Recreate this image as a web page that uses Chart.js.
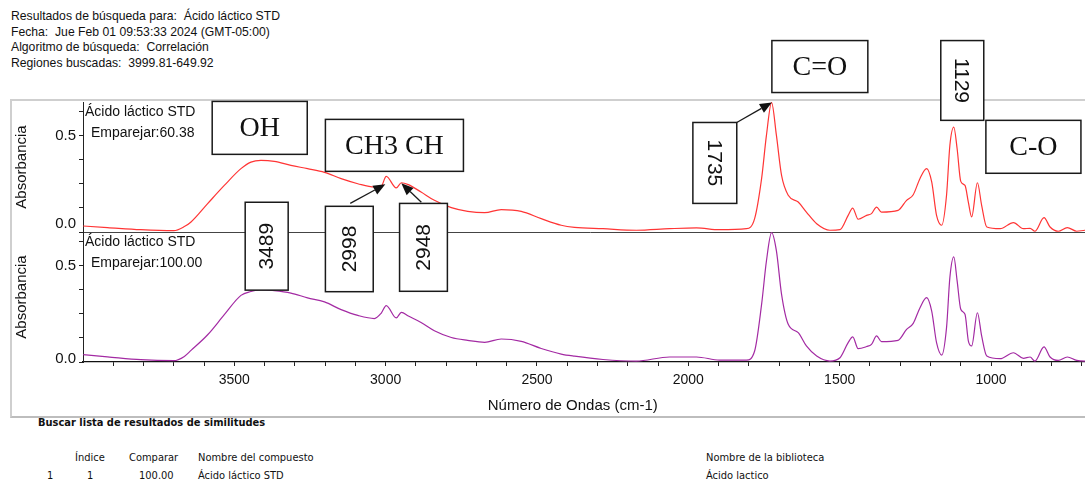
<!DOCTYPE html>
<html>
<head>
<meta charset="utf-8">
<script src="https://cdn.jsdelivr.net/npm/chart.js@4.4.1/dist/chart.umd.min.js"></script>
<style>
  html, body { margin: 0; padding: 0; background: #fff; overflow: hidden; }
  body { width: 1085px; height: 481px; position: relative; font-family: "Liberation Sans", Arial, sans-serif; color: #111; }
  .head { position: absolute; left: 11px; top: 9px; font-size: 12.2px; line-height: 15.7px; white-space: pre; }
  .panel { position: absolute; left: 10px; top: 99px; width: 1110px; height: 315px;
           border-top: 2px solid #cfcfcf; border-left: 2px solid #cfcfcf; border-bottom: 2px solid #bdbdbd; }
  #spec { position: absolute; left: 12px; top: 28px; }
  .foot { position: absolute; font-family: "Liberation Sans Narrow", "DejaVu Sans Condensed", sans-serif; font-size: 11px; white-space: pre; }
  .foot.b { font-weight: bold; }
</style>
</head>
<body>
<div class="head">Resultados de búsqueda para:  Ácido láctico STD
Fecha:  Jue Feb 01 09:53:33 2024 (GMT-05:00)
Algoritmo de búsqueda:  Correlación
Regiones buscadas:  3999.81-649.92</div>

<div class="panel"></div>
<canvas id="spec" width="1098" height="388"></canvas>

<div class="foot b" style="left:38px; top:416px;">Buscar lista de resultados de similitudes</div>
<div class="foot" style="left:75px; top:451px;">Índice</div>
<div class="foot" style="left:129px; top:451px;">Comparar</div>
<div class="foot" style="left:198px; top:451px;">Nombre del compuesto</div>
<div class="foot" style="left:706px; top:451px;">Nombre de la biblioteca</div>
<div class="foot" style="left:47px; top:469px;">1</div>
<div class="foot" style="left:87px; top:469px;">1</div>
<div class="foot" style="left:139px; top:469px;">100.00</div>
<div class="foot" style="left:198px; top:469px;">Ácido láctico STD</div>
<div class="foot" style="left:706px; top:469px;">Ácido lactico</div>

<script>
// wavenumbers (cm-1)
const wavenumbers = [3999, 3919, 3809, 3700, 3665, 3643, 3588, 3533, 3478, 3445, 3412, 3368, 3313, 3258,
  3202, 3147, 3092, 3037, 3015, 2998, 2965, 2948, 2925, 2883, 2839, 2783, 2729, 2673, 2618, 2552,
  2486, 2420, 2376, 2282, 2172, 2062, 1973, 1897, 1808, 1781, 1758, 1742, 1725, 1709, 1692, 1670,
  1637, 1610, 1576, 1532, 1499, 1472, 1457, 1439, 1411, 1395, 1378, 1362, 1307, 1279, 1257, 1235,
  1213, 1196, 1180, 1163, 1147, 1136, 1123, 1112, 1100, 1086, 1075, 1064, 1045, 1031, 1014, 970,
  926, 893, 871, 855, 825, 805, 778, 748, 717, 690, 650];

// sample spectrum (top, red) - Emparejar 60.38
const absSample = [0.031, 0.023, 0.012, 0.007, 0.028, 0.052, 0.147, 0.241, 0.328, 0.362, 0.371, 0.366, 0.345, 0.328,
  0.309, 0.276, 0.250, 0.233, 0.236, 0.288, 0.228, 0.255, 0.245, 0.207, 0.164, 0.126, 0.107, 0.100, 0.116, 0.107,
  0.069, 0.035, 0.024, 0.017, 0.009, 0.017, 0.021, 0.012, 0.017, 0.069, 0.276, 0.500, 0.670, 0.500, 0.293, 0.190,
  0.155, 0.103, 0.043, 0.009, 0.012, 0.086, 0.124, 0.066, 0.086, 0.095, 0.129, 0.103, 0.112, 0.164, 0.193, 0.276,
  0.328, 0.259, 0.086, 0.035, 0.190, 0.448, 0.543, 0.431, 0.262, 0.241, 0.155, 0.078, 0.255, 0.138, 0.026, 0.017,
  0.049, 0.017, 0.019, 0.004, 0.074, 0.026, 0.004, 0.023, 0.004, 0.009, 0.010];

// library spectrum (bottom, purple) - Emparejar 100.00
const absLibrary = [0.038, 0.027, 0.012, 0.007, 0.029, 0.060, 0.141, 0.245, 0.345, 0.365, 0.375, 0.370, 0.357, 0.332,
  0.311, 0.271, 0.241, 0.225, 0.252, 0.292, 0.228, 0.257, 0.238, 0.205, 0.162, 0.127, 0.112, 0.102, 0.119, 0.107,
  0.070, 0.041, 0.030, 0.013, 0.005, 0.026, 0.026, 0.010, 0.010, 0.057, 0.298, 0.523, 0.670, 0.575, 0.350, 0.195,
  0.152, 0.083, 0.031, 0.005, 0.022, 0.100, 0.130, 0.069, 0.080, 0.091, 0.135, 0.105, 0.112, 0.169, 0.200, 0.280,
  0.333, 0.264, 0.100, 0.036, 0.178, 0.437, 0.544, 0.420, 0.273, 0.247, 0.110, 0.083, 0.255, 0.135, 0.031, 0.017,
  0.048, 0.019, 0.026, 0.005, 0.078, 0.026, 0.008, 0.026, 0.008, 0.005, 0.010];

const xMin = 649.92, xMax = 3999.81, yMax = 0.673;
const xTicks = [700, 800, 900, 1000, 1100, 1200, 1300, 1400, 1500, 1600, 1700, 1800, 1900, 2000, 2100, 2200,
  2300, 2400, 2500, 2600, 2700, 2800, 2900, 3000, 3100, 3200, 3300, 3400, 3500, 3600, 3700, 3800, 3900];
const xLabels = [1000, 1500, 2000, 2500, 3000, 3500];
const yTicks = [0, 0.125, 0.25, 0.375, 0.5, 0.625];
const yLabels = [0.5];
const xTitle = 'Número de Ondas (cm-1)';

// boxes drawn over the spectra, placed in data units of the top plot
const boxNotes = [
  { text: 'OH', x1: 3573, x2: 3259, y1: 0.676, y2: 0.402 },
  { text: 'CH3 CH', x1: 3199, x2: 2743, y1: 0.583, y2: 0.314 },
  { text: 'C=O', x1: 1724, x2: 1407, y1: 0.991, y2: 0.722 },
  { text: 'C-O', x1: 1017, x2: 703, y1: 0.578, y2: 0.304 },
  { text: '1129', x1: 1166, x2: 1024, y1: 0.991, y2: 0.578, rot: 90 },
  { text: '1735', x1: 1985, x2: 1840, y1: 0.567, y2: 0.148, rot: 90 },
  { text: '3489', x1: 3464, x2: 3322, y1: 0.154, y2: -0.301, rot: -90 },
  { text: '2998', x1: 3199, x2: 3041, y1: 0.133, y2: -0.309, rot: -90 },
  { text: '2948', x1: 2954, x2: 2796, y1: 0.148, y2: -0.307, rot: -90 }
];
const arrows = [
  { from: [1840, 0.567], to: [1724, 0.671] },
  { from: [3117, 0.148], to: [3001, 0.247] },
  { from: [2882, 0.154], to: [2948, 0.252] }
];

const plotTexts = {
  yTop: ['Ácido láctico STD', 'Emparejar:60.38'],
  yBot: ['Ácido láctico STD', 'Emparejar:100.00']
};
// the "0.0" labels sit a little above their tick in the source
const zeroLift = { yTop: 8, yBot: 3 };

const sansFont = '"Liberation Sans", Arial, sans-serif';

const notesPlugin = {
  id: 'notes',
  afterDatasetsDraw(chart) {
    const ctx = chart.ctx;
    const area = chart.chartArea;
    const xs = chart.scales.x, ys = chart.scales.yTop;
    const px = v => xs.getPixelForValue(v), py = v => ys.getPixelForValue(v);
    ctx.save();

    ctx.fillStyle = '#111';
    ctx.textBaseline = 'middle';
    for (const id of ['yTop', 'yBot']) {
      const s = chart.scales[id];
      // zero tick label
      ctx.textAlign = 'right';
      ctx.font = '15px ' + sansFont;
      ctx.fillText('0.0', s.right - 7, s.getPixelForValue(0) - zeroLift[id]);
      // plot captions
      ctx.textAlign = 'left';
      ctx.font = '14px ' + sansFont;
      ctx.fillText(plotTexts[id][0], area.left + 2, s.top + 10);
      ctx.fillText(plotTexts[id][1], area.left + 8, s.top + 31);
    }

    // x axis title, sits a bit left of the plot centre as in the source
    ctx.textAlign = 'center';
    ctx.font = '15px ' + sansFont;
    ctx.fillText(xTitle, area.left + (area.right - area.left) * 0.483, xs.bottom - 10);

    // boxes
    for (const b of boxNotes) {
      const l = px(b.x1), r = px(b.x2), t = py(b.y1), btm = py(b.y2);
      ctx.fillStyle = '#fff';
      ctx.fillRect(l, t, r - l, btm - t);
      ctx.strokeStyle = '#1a1a1a';
      ctx.lineWidth = 1.5;
      ctx.strokeRect(l, t, r - l, btm - t);
      ctx.fillStyle = '#111';
      ctx.textAlign = 'center';
      ctx.textBaseline = 'middle';
      ctx.save();
      ctx.translate((l + r) / 2, (t + btm) / 2);
      if (b.rot) {
        ctx.rotate(b.rot * Math.PI / 180);
        ctx.font = '21px ' + sansFont;
      } else {
        ctx.font = '28px "Liberation Serif", "Times New Roman", serif';
      }
      ctx.fillText(b.text, 0, 1);
      ctx.restore();
    }

    // arrows
    ctx.strokeStyle = '#1a1a1a';
    ctx.fillStyle = '#111';
    ctx.lineWidth = 1.3;
    for (const a of arrows) {
      const x0 = px(a.from[0]), y0 = py(a.from[1]), x1 = px(a.to[0]), y1 = py(a.to[1]);
      const ang = Math.atan2(y1 - y0, x1 - x0);
      const len = 12, half = 5;
      const bx = x1 - len * Math.cos(ang), by = y1 - len * Math.sin(ang);
      ctx.beginPath();
      ctx.moveTo(x0, y0);
      ctx.lineTo(bx, by);
      ctx.stroke();
      ctx.beginPath();
      ctx.moveTo(x1, y1);
      ctx.lineTo(bx + half * Math.sin(ang), by - half * Math.cos(ang));
      ctx.lineTo(bx - half * Math.sin(ang), by + half * Math.cos(ang));
      ctx.closePath();
      ctx.fill();
    }
    ctx.restore();
  }
};

const toPoints = vals => wavenumbers.map((w, i) => ({ x: w, y: vals[i] }));

function yAxis(isTop) {
  return {
    type: 'linear',
    position: 'left',
    stack: 'spec',
    stackWeight: 1,
    weight: isTop ? 1 : 0,
    min: 0,
    max: yMax,
    afterFit: s => { s.width = 71; },
    afterBuildTicks: s => { s.ticks = yTicks.map(v => ({ value: v })); },
    ticks: {
      autoSkip: false,
      padding: 3,
      color: '#111',
      font: { family: sansFont, size: 15 },
      callback: v => yLabels.includes(v) ? v.toFixed(1) : ''
    },
    grid: {
      drawOnChartArea: isTop,
      tickLength: 4,
      tickColor: '#222',
      color: ctx => (isTop && ctx.tick && ctx.tick.value === 0) ? '#444' : 'rgba(0,0,0,0)'
    },
    border: { color: '#222', width: 1 },
    title: {
      display: true,
      text: 'Absorbancia',
      color: '#111',
      font: { family: sansFont, size: 15 },
      padding: { top: 1, bottom: 0 }
    }
  };
}

new Chart(document.getElementById('spec'), {
  type: 'line',
  data: {
    datasets: [
      {
        label: 'Ácido láctico STD (60.38)',
        data: toPoints(absSample),
        yAxisID: 'yTop',
        borderColor: '#ff3535',
        borderWidth: 1.2,
        pointRadius: 0,
        cubicInterpolationMode: 'monotone'
      },
      {
        label: 'Ácido láctico STD (100.00)',
        data: toPoints(absLibrary),
        yAxisID: 'yBot',
        borderColor: '#a32aa3',
        borderWidth: 1.2,
        pointRadius: 0,
        cubicInterpolationMode: 'monotone'
      }
    ]
  },
  options: {
    responsive: false,
    animation: false,
    layout: { padding: { top: 74, right: 13, bottom: 0, left: 0 } },
    plugins: { legend: { display: false }, tooltip: { enabled: false } },
    scales: {
      x: {
        type: 'linear',
        reverse: true,
        min: xMin,
        max: xMax,
        afterFit: s => { s.height = 54; },
        afterBuildTicks: s => { s.ticks = xTicks.map(v => ({ value: v })); },
        ticks: {
          autoSkip: false,
          maxRotation: 0,
          padding: 6,
          color: '#111',
          font: { family: sansFont, size: 14 },
          callback: v => xLabels.includes(v) ? String(v) : ''
        },
        grid: { drawOnChartArea: false, tickLength: 4, tickColor: '#222' },
        border: { color: '#111', width: 1.2 }
      },
      yTop: yAxis(true),
      yBot: yAxis(false)
    }
  },
  plugins: [notesPlugin]
});
</script>
</body>
</html>
